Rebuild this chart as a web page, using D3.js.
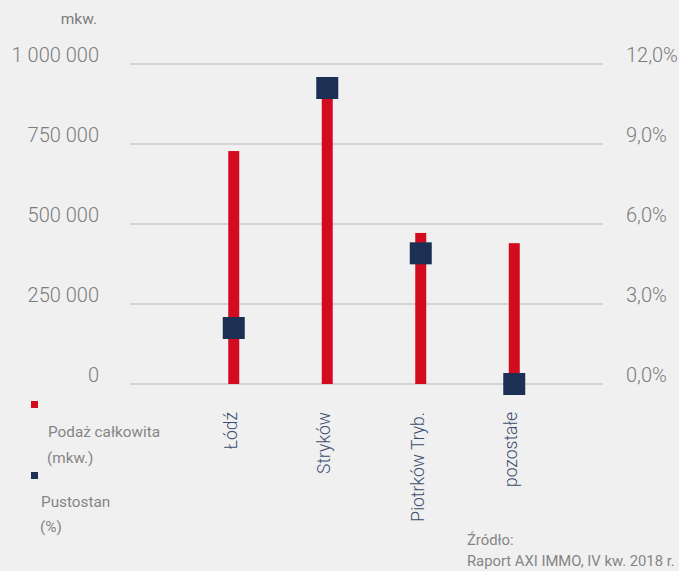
<!DOCTYPE html>
<html>
<head>
<meta charset="utf-8">
<script src="https://cdn.jsdelivr.net/npm/d3@7"></script>
<style>
  body { margin: 0; background: #f0f0f0; }
  svg { display: block; font-family: Roboto, "Noto Sans", sans-serif; }
</style>
</head>
<body>
<div id="chart"></div>
<script>
// data
const categories = ["Łódź", "Stryków", "Piotrków Tryb.", "pozostałe"];
const supply = [728000, 900000, 472000, 440000];      // Podaż całkowita (mkw.)
const vacancy = [2.1, 11.1, 4.9, 0.0];                 // Pustostan (%)
const leftTicks = [0, 250000, 500000, 750000, 1000000];
const rightTicks = [0, 3, 6, 9, 12];

const WIDTH = 679, HEIGHT = 571;
const RED = "#d20b1f", NAVY = "#1b3053";

const svg = d3.select("#chart").append("svg")
    .attr("width", WIDTH)
    .attr("height", HEIGHT);

svg.append("rect").attr("width", WIDTH).attr("height", HEIGHT).attr("fill", "#f0f0f0");

const x = d3.scaleBand().domain(categories).range([187, 561]);
const y = d3.scaleLinear().domain([0, 1000000]).range([384, 64]);
const y2 = d3.scaleLinear().domain([0, 12]).range([384, 64]);

// gridlines
svg.append("g")
    .selectAll("line")
    .data(leftTicks)
    .join("line")
    .attr("x1", 130)
    .attr("x2", 603)
    .attr("y1", d => y(d))
    .attr("y2", d => y(d))
    .attr("stroke", "#cbcbcb")
    .attr("stroke-width", 1.5);

// left axis
const fmtLeft = d => d3.format(",")(d).replace(/,/g, " ");
const leftAxis = svg.append("g")
    .attr("transform", "translate(99,0)")
    .call(d3.axisLeft(y).tickValues(leftTicks).tickFormat(fmtLeft).tickSize(0).tickPadding(0));
leftAxis.select(".domain").remove();
leftAxis.selectAll("text")
    .attr("fill", "#7c7c7c")
    .attr("dy", null)
    .attr("y", -3)
    .style("font-size", "20px")
    .style("font-family", "Roboto, sans-serif")
    .style("font-weight", 300);

// right axis
const rightAxis = svg.append("g")
    .attr("transform", "translate(626,0)")
    .call(d3.axisRight(y2).tickValues(rightTicks)
        .tickFormat(d => d.toFixed(1).replace(".", ",") + "%")
        .tickSize(0).tickPadding(0));
rightAxis.select(".domain").remove();
rightAxis.selectAll("text")
    .attr("fill", "#7c7c7c")
    .attr("dy", null)
    .attr("y", -3)
    .style("font-size", "20px")
    .style("font-family", "Roboto, sans-serif")
    .style("font-weight", 300);

// unit
svg.append("text")
    .attr("x", 97)
    .attr("y", 24)
    .attr("text-anchor", "end")
    .attr("fill", "#7c7c7c")
    .style("font-size", "15.5px")
    .text("mkw.");

// bars
const rows = categories.map((c, i) => ({ cat: c, supply: supply[i], vacancy: vacancy[i] }));
const barW = 11;
svg.append("g")
    .selectAll("rect")
    .data(rows)
    .join("rect")
    .attr("x", d => x(d.cat) + x.bandwidth() / 2 - barW / 2)
    .attr("y", d => y(d.supply))
    .attr("width", barW)
    .attr("height", d => y(0) - y(d.supply))
    .attr("fill", RED);

// vacancy markers
const mk = 22;
svg.append("g")
    .selectAll("rect")
    .data(rows)
    .join("rect")
    .attr("x", d => x(d.cat) + x.bandwidth() / 2 - mk / 2)
    .attr("y", d => y2(d.vacancy) - mk / 2)
    .attr("width", mk)
    .attr("height", mk)
    .attr("fill", NAVY);

// category labels
svg.append("g")
    .selectAll("text")
    .data(categories)
    .join("text")
    .attr("transform", d => `translate(${x(d) + x.bandwidth() / 2 + 3},412) rotate(-90)`)
    .attr("text-anchor", "end")
    .attr("fill", "#3b4d6e")
    .style("font-size", "17.5px")
    .style("font-weight", 300)
    .text(d => d);

// legend
const legend = svg.append("g").attr("fill", "#858585").style("font-size", "15.3px");
legend.append("rect").attr("x", 31).attr("y", 401).attr("width", 7).attr("height", 7).attr("fill", RED);
legend.append("text").attr("x", 48).attr("y", 437).text("Podaż całkowita");
legend.append("text").attr("x", 47).attr("y", 463).text("(mkw.)");
legend.append("rect").attr("x", 31).attr("y", 472).attr("width", 7).attr("height", 7).attr("fill", NAVY);
legend.append("text").attr("x", 41).attr("y", 507).text("Pustostan");
legend.append("text").attr("x", 40).attr("y", 532).text("(%)");

// source
const src = svg.append("g").attr("fill", "#858585").style("font-size", "14.8px");
src.append("text").attr("x", 467).attr("y", 545).text("Źródło:");
src.append("text").attr("x", 467).attr("y", 566).text("Raport AXI IMMO, IV kw. 2018 r.");
</script>
</body>
</html>
